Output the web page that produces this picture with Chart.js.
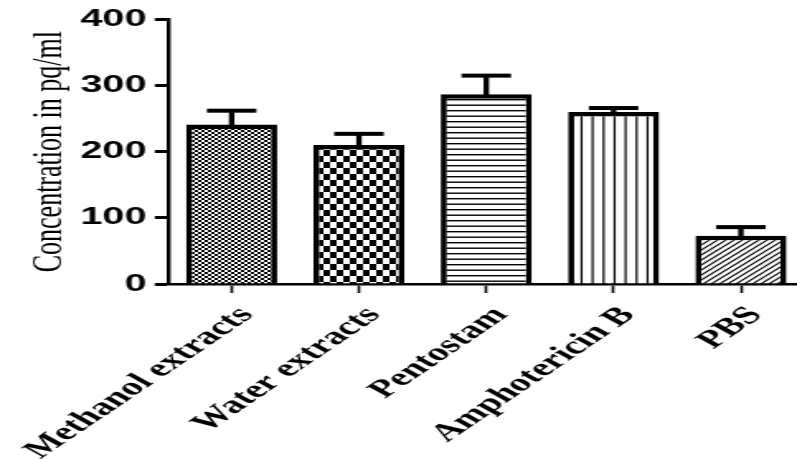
<!DOCTYPE html>
<html>
<head>
<meta charset="utf-8">
<script src="https://cdn.jsdelivr.net/npm/chart.js@4.4.1/dist/chart.umd.min.js"></script>
<style>
  html, body { margin: 0; padding: 0; background: #fff; overflow: hidden; width: 797px; height: 459px; }
  #wrap { width: 797px; height: 459px; overflow: hidden; position: relative; }
  /* the figure is drawn narrow and stretched sideways, giving its wide lettering */
  #c { position: absolute; left: 0; top: 0; transform: scaleX(1.65); transform-origin: 0 0; }
</style>
</head>
<body>
<div id="wrap"><canvas id="c" width="500" height="459"></canvas></div>
<script>
// Cytokine concentration per treatment group (mean and SD, pg/ml)
const categories = ['Methanol extracts', 'Water extracts', 'Pentostam', 'Amphotericin B', 'PBS'];
const meanValues = [241, 210, 287, 260, 73];
const sdValues = [21, 17, 28, 6, 13];
const yTicks = [0, 100, 200, 300, 400];

const canvas = document.getElementById('c');
const mainCtx = canvas.getContext('2d');

// Build a black-and-white fill pattern from a small tile
function makePattern(w, h, draw) {
  const t = document.createElement('canvas');
  t.width = w; t.height = h;
  const g = t.getContext('2d');
  g.fillStyle = '#fff';
  g.fillRect(0, 0, w, h);
  g.fillStyle = '#000';
  g.strokeStyle = '#000';
  draw(g, w, h);
  return mainCtx.createPattern(t, 'repeat');
}

const fineChecker = makePattern(4, 4, g => {
  g.fillRect(0, 0, 2, 2);
  g.fillRect(2, 2, 2, 2);
});
const coarseChecker = makePattern(8, 12, g => {
  g.fillRect(0, 0, 4, 6);
  g.fillRect(4, 6, 4, 6);
});
const horizontalLines = makePattern(4, 11, (g, w) => {
  g.fillRect(0, 0, w, 1.4);
  g.fillRect(0, 5.5, w, 1.4);
});
const verticalLines = makePattern(20, 4, (g, w, h) => {
  [5.2, 11.87, 18.53].forEach(x => g.fillRect(x, 0, 1.2, h));
});
const diagonalLines = makePattern(5, 5, (g, w, h) => {
  g.lineWidth = 1.2;
  g.beginPath();
  g.moveTo(0, h); g.lineTo(w, 0);
  g.moveTo(-1, 1); g.lineTo(1, -1);
  g.moveTo(w - 1, h + 1); g.lineTo(w + 1, h - 1);
  g.stroke();
});
const fills = [fineChecker, coarseChecker, horizontalLines, verticalLines, diagonalLines];

// Upward error bars (mean + SD) with a flat cap
const errorBars = {
  id: 'errorBars',
  afterDatasetsDraw(chart) {
    const { ctx, scales: { y } } = chart;
    const meta = chart.getDatasetMeta(0);
    ctx.save();
    ctx.fillStyle = '#000';
    meta.data.forEach((bar, i) => {
      const x = bar.x;
      const yTop = y.getPixelForValue(meanValues[i] + sdValues[i]);
      const yBar = y.getPixelForValue(meanValues[i]);
      ctx.fillRect(x - 1.65, yTop, 3.3, yBar - yTop + 2);
      ctx.fillRect(x - 15, yTop - 2, 30, 4);
    });
    ctx.restore();
  }
};

new Chart(canvas, {
  type: 'bar',
  data: {
    labels: categories,
    datasets: [{
      data: meanValues,
      backgroundColor: fills,
      borderColor: '#000',
      borderWidth: { top: 4.5, left: 3.7, right: 3.7, bottom: 0 },
      borderSkipped: 'start',
      barPercentage: 0.715,
      categoryPercentage: 1
    }]
  },
  options: {
    responsive: false,
    animation: false,
    devicePixelRatio: 1,
    layout: { padding: { top: 19, right: 12.4, left: 0, bottom: 0 } },
    plugins: { legend: { display: false }, tooltip: { enabled: false } },
    scales: {
      x: {
        offset: true,
        grid: {
          display: true, drawOnChartArea: false, drawTicks: true,
          tickLength: 9, tickWidth: 1.6, tickColor: '#000', offset: false
        },
        border: { display: true, color: '#000', width: 2.6 },
        ticks: {
          autoSkip: false, minRotation: 48, maxRotation: 48,
          padding: 8, labelOffset: 9, color: '#000',
          font: { family: "'Liberation Serif', 'Times New Roman', serif", size: 25, weight: 'bold' }
        },
        afterFit(scale) {
          scale.height = 175;
          scale.paddingLeft = 0;
          scale.paddingRight = 0;
        }
      },
      y: {
        min: 0, max: 400,
        afterBuildTicks(scale) { scale.ticks = yTicks.map(v => ({ value: v })); },
        grid: {
          display: true, drawOnChartArea: false, drawTicks: true,
          tickLength: 8, tickWidth: 3, tickColor: '#000'
        },
        border: { display: true, color: '#000', width: 2.4 },
        ticks: {
          padding: 5, color: '#000',
          font: { family: "'Liberation Sans', Arial, sans-serif", size: 24, weight: 'bold' }
        },
        title: {
          display: true,
          text: 'Concentration in pq/ml',
          color: '#000',
          padding: { top: 14.7, bottom: 0 },
          font: { family: "'Liberation Serif', 'Times New Roman', serif", size: 26, weight: 'normal' }
        },
        afterFit(scale) { scale.width = 101.8; }
      }
    }
  },
  plugins: [errorBars]
});
</script>
</body>
</html>
